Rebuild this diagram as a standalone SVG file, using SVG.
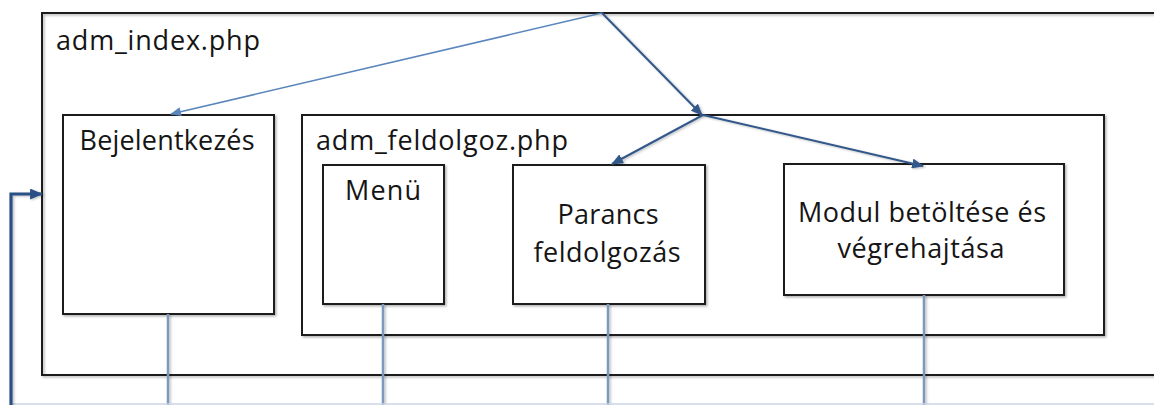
<svg xmlns="http://www.w3.org/2000/svg" width="1154" height="405" viewBox="0 0 1154 405">
  <defs>
    <style>
      .box { fill: #ffffff; stroke: #1e1e1e; stroke-width: 2; }
      .frame { fill: none; stroke: #1e1e1e; stroke-width: 2; }
      .label { font-family: "Open Sans", "Liberation Sans", sans-serif; font-size: 27px; fill: #151515; }
      .mid { text-anchor: middle; }
      .flow { fill: none; stroke: #33598a; stroke-width: 2; }
      .flow-light { fill: none; stroke: #5b86bb; stroke-width: 1.6; }
      .drop { fill: none; stroke: #7b98bd; stroke-width: 2.5; }
      .loop { fill: none; stroke: #2c5186; stroke-width: 3.2; }
    </style>
    <filter id="shade" x="-5%" y="-5%" width="115%" height="115%">
      <feDropShadow dx="1.5" dy="1.5" stdDeviation="1.2" flood-color="#000000" flood-opacity="0.3"/>
    </filter>
    <!-- user-space region so straight vertical lines keep their shadow -->
    <filter id="shade-line" filterUnits="userSpaceOnUse" x="0" y="0" width="1154" height="405">
      <feDropShadow dx="1.5" dy="1" stdDeviation="1.2" flood-color="#000000" flood-opacity="0.25"/>
    </filter>
    <marker id="head" viewBox="0 0 12 10" refX="11" refY="5" markerWidth="12" markerHeight="10" markerUnits="userSpaceOnUse" orient="auto">
      <path d="M0,0 L12,5 L0,10 Z" fill="#33598a"/>
    </marker>
    <marker id="head-light" viewBox="0 0 12 10" refX="11" refY="5" markerWidth="12" markerHeight="9" markerUnits="userSpaceOnUse" orient="auto">
      <path d="M0,0 L12,5 L0,10 Z" fill="#5b86bb"/>
    </marker>
    <marker id="head-loop" viewBox="0 0 12 10" refX="11" refY="5" markerWidth="13" markerHeight="11" markerUnits="userSpaceOnUse" orient="auto">
      <path d="M0,0 L12,5 L0,10 Z" fill="#2c5186"/>
    </marker>
  </defs>

  <rect width="1154" height="405" fill="#ffffff"/>

  <!-- outer page frame, open on the right -->
  <g id="adm-index">
    <path class="frame" filter="url(#shade)" d="M1160,13 L42,13 L42,375 L1160,375"/>
    <text class="label" x="56" y="50" textLength="204">adm_index.php</text>
  </g>

  <g id="bejelentkezes">
    <rect class="box" filter="url(#shade)" x="63" y="115" width="211" height="199"/>
    <text class="label mid" x="167" y="150" textLength="175">Bejelentkezés</text>
  </g>

  <g id="adm-feldolgoz">
    <rect class="box" filter="url(#shade)" x="302" y="115" width="802" height="220"/>
    <text class="label" x="316" y="150" textLength="252">adm_feldolgoz.php</text>
  </g>

  <g id="menu">
    <rect class="box" filter="url(#shade)" x="323" y="165" width="121" height="139"/>
    <text class="label mid" x="383" y="200" textLength="76">Menü</text>
  </g>

  <g id="parancs">
    <rect class="box" filter="url(#shade)" x="513" y="165" width="192" height="139"/>
    <text class="label mid" x="608" y="224" textLength="101">Parancs</text>
    <text class="label mid" x="607" y="262" textLength="147">feldolgozás</text>
  </g>

  <g id="modul">
    <rect class="box" filter="url(#shade)" x="784" y="164" width="280" height="131"/>
    <text class="label mid" x="922" y="222" textLength="248">Modul betöltése és</text>
    <text class="label mid" x="921" y="258" textLength="167">végrehajtása</text>
  </g>

  <g id="connectors">
    <line x1="602" y1="13" x2="171" y2="114" class="flow-light" marker-end="url(#head-light)"/>
    <line x1="602" y1="13" x2="702" y2="115" class="flow" filter="url(#shade-line)" marker-end="url(#head)"/>
    <line x1="703" y1="115" x2="612" y2="164" class="flow" filter="url(#shade-line)" marker-end="url(#head)"/>
    <line x1="703" y1="115" x2="923" y2="166" class="flow" filter="url(#shade-line)" marker-end="url(#head)"/>

    <line x1="168" y1="314" x2="168" y2="405" class="drop" filter="url(#shade-line)"/>
    <line x1="383" y1="304" x2="383" y2="405" class="drop" filter="url(#shade-line)"/>
    <line x1="608" y1="304" x2="608" y2="405" class="drop" filter="url(#shade-line)"/>
    <line x1="924" y1="295" x2="924" y2="405" class="drop" filter="url(#shade-line)"/>

    <line x1="10" y1="404" x2="1154" y2="404" stroke="#c9d5e5" stroke-width="1.5"/>

    <path d="M11,405 L11,194 L42,194" class="loop" filter="url(#shade-line)" marker-end="url(#head-loop)"/>
  </g>
</svg>
